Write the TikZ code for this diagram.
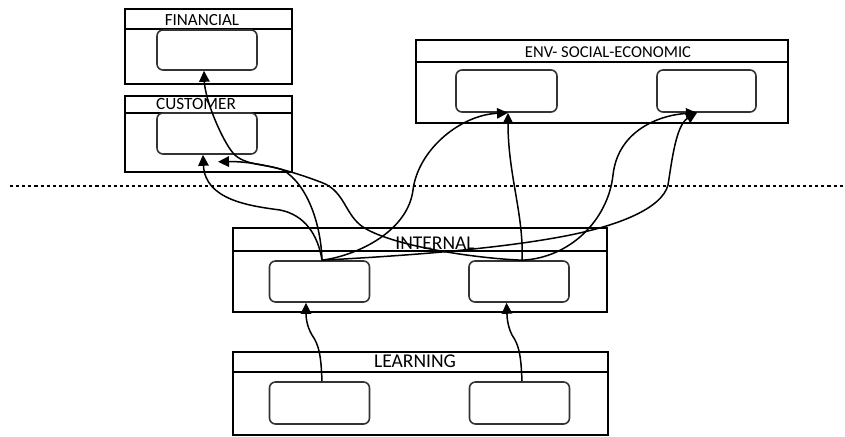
\documentclass[tikz,border=0pt]{standalone}
\usepackage{fontspec}
\setmainfont{Carlito}
\usetikzlibrary{arrows.meta,calc}

\begin{document}
\begin{tikzpicture}[x=1pt,y=-1pt,
  outerbox/.style={draw=black, line width=1.3pt, rectangle, inner sep=0pt},
  slot/.style={draw=black!80, line width=1.6pt, rectangle, rounded corners=6pt,
               inner sep=0pt, minimum width=100pt, minimum height=41pt},
  header/.style={line width=1.3pt},
  title/.style={inner sep=0pt, text=black},
  link/.style={line width=1.5pt, -{Triangle[length=11pt,width=10.5pt]}},
  divider/.style={line width=2.6pt, dash pattern=on 3.1pt off 3pt}]

\useasboundingbox (0,0) rectangle (845,436);

% ---- perspective containers ----
\node[outerbox, minimum width=167pt, minimum height=75pt] (fin) at (208.5,46.5) {};
\node[outerbox, minimum width=167pt, minimum height=76pt] (cus) at (208.5,134) {};
\node[outerbox, minimum width=372pt, minimum height=83pt] (env) at (602,81.5) {};
\node[outerbox, minimum width=374pt, minimum height=84pt] (int) at (420,270) {};
\node[outerbox, minimum width=375pt, minimum height=83pt] (lrn) at (420.5,393.5) {};

% header rules
\draw[header] (fin.west |- 0,29)  -- (fin.east |- 0,29);
\draw[header] (cus.west |- 0,113) -- (cus.east |- 0,113);
\draw[header] (env.west |- 0,62)  -- (env.east |- 0,62);
\draw[header] (int.west |- 0,251) -- (int.east |- 0,251);
\draw[header] (lrn.west |- 0,372) -- (lrn.east |- 0,372);

% titles
\node[title, font=\fontsize{17}{17}\selectfont]   (finT) at (202,20)  {FINANCIAL};
\node[title, font=\fontsize{17.2}{17}\selectfont] (cusT) at (196,104) {CUSTOMER};
\node[title, font=\fontsize{16.6}{17}\selectfont] (envT) at (608,52)  {ENV- SOCIAL-ECONOMIC};
\node[title, font=\fontsize{19.5}{19}\selectfont] (intT) at (435,243.5) {INTERNAL};
\node[title, font=\fontsize{19.5}{19}\selectfont] (lrnT) at (415,361) {LEARNING};

% ---- objective slots ----
\node[slot, minimum height=40pt] (F)  at (207,50) {};
\node[slot] (C)  at (207,133.5) {};
\node[slot, minimum height=42pt, minimum width=101pt] (E1) at (506.5,91) {};
\node[slot, minimum height=42pt, minimum width=99pt]  (E2) at (706.5,91) {};
\node[slot] (I1) at (319.5,281.5) {};
\node[slot] (I2) at (519,281.5) {};
\node[slot, minimum height=42pt] (L1) at (319.5,403) {};
\node[slot, minimum height=42pt] (L2) at (519.5,403) {};

% ---- boundary line ----
\coordinate (dl) at (10,186);
\coordinate (dr) at (845,186);
\draw[divider] (dl) -- (dr);

% ---- cause-effect links ----
% learning -> internal
\draw[link] ($(L1.north)+(2.5,0)$) .. controls (321,355) and (319,345) .. (312,335)
            .. controls (306,325) and (306,315) .. ($(I1.south)+(-13.5,0)$);
\draw[link] ($(L2.north)+(2.5,0)$) .. controls (521,355) and (519,345) .. (512,335)
            .. controls (507,325) and (507,315) .. ($(I2.south)+(-12.5,0)$);

% internal (left) -> financial
\draw[link] ($(I1.north)+(2.5,0)$) .. controls (321,225) and (308,185) .. (283,170)
            .. controls (268,164) and (244,166) .. (233,153)
            .. controls (222,140) and (205,100) .. ($(F.south)+(-3,0)$);
% internal (left) -> customer
\draw[link] ($(I1.north)+(2.5,0)$) .. controls (318,235) and (305,215) .. (280,210)
            .. controls (250,206) and (205,200) .. ($(C.south)+(-4,0)$);
% internal (right) -> customer
\draw[link] ($(I2.north)+(3,0)$) .. controls (470,258) and (390,245) .. (363,227)
            .. controls (345,215) and (345,192) .. (323,183)
            .. controls (300,174) and (260,161) .. ($(C.south)+(11,7)$);
% internal (left) -> env (left)
\draw[link] ($(I1.north)+(2.5,0)$) .. controls (360,255) and (408,230) .. (413,190)
            .. controls (418,150) and (460,115) .. ($(E1.south)+(1.5,0)$);
% internal (right) -> env (left)
\draw[link] ($(I2.north)+(3,0)$) .. controls (524,215) and (508,175) .. ($(E1.south)+(1.5,0)$);
% internal (right) -> env (right)
\draw[link] ($(I2.north)+(3,0)$) .. controls (570,258) and (608,220) .. (613,175)
            .. controls (618,130) and (660,115) .. ($(E2.south)+(-9.5,0)$);
% internal (left) -> env (right)
\draw[link] ($(I1.north)+(2.5,0)$) .. controls (420,255) and (500,248) .. (560,237)
            .. controls (620,226) and (662,208) .. (668,185)
            .. controls (672,160) and (676,125) .. ($(E2.south)+(-9.5,0)$);

\end{tikzpicture}
\end{document}
